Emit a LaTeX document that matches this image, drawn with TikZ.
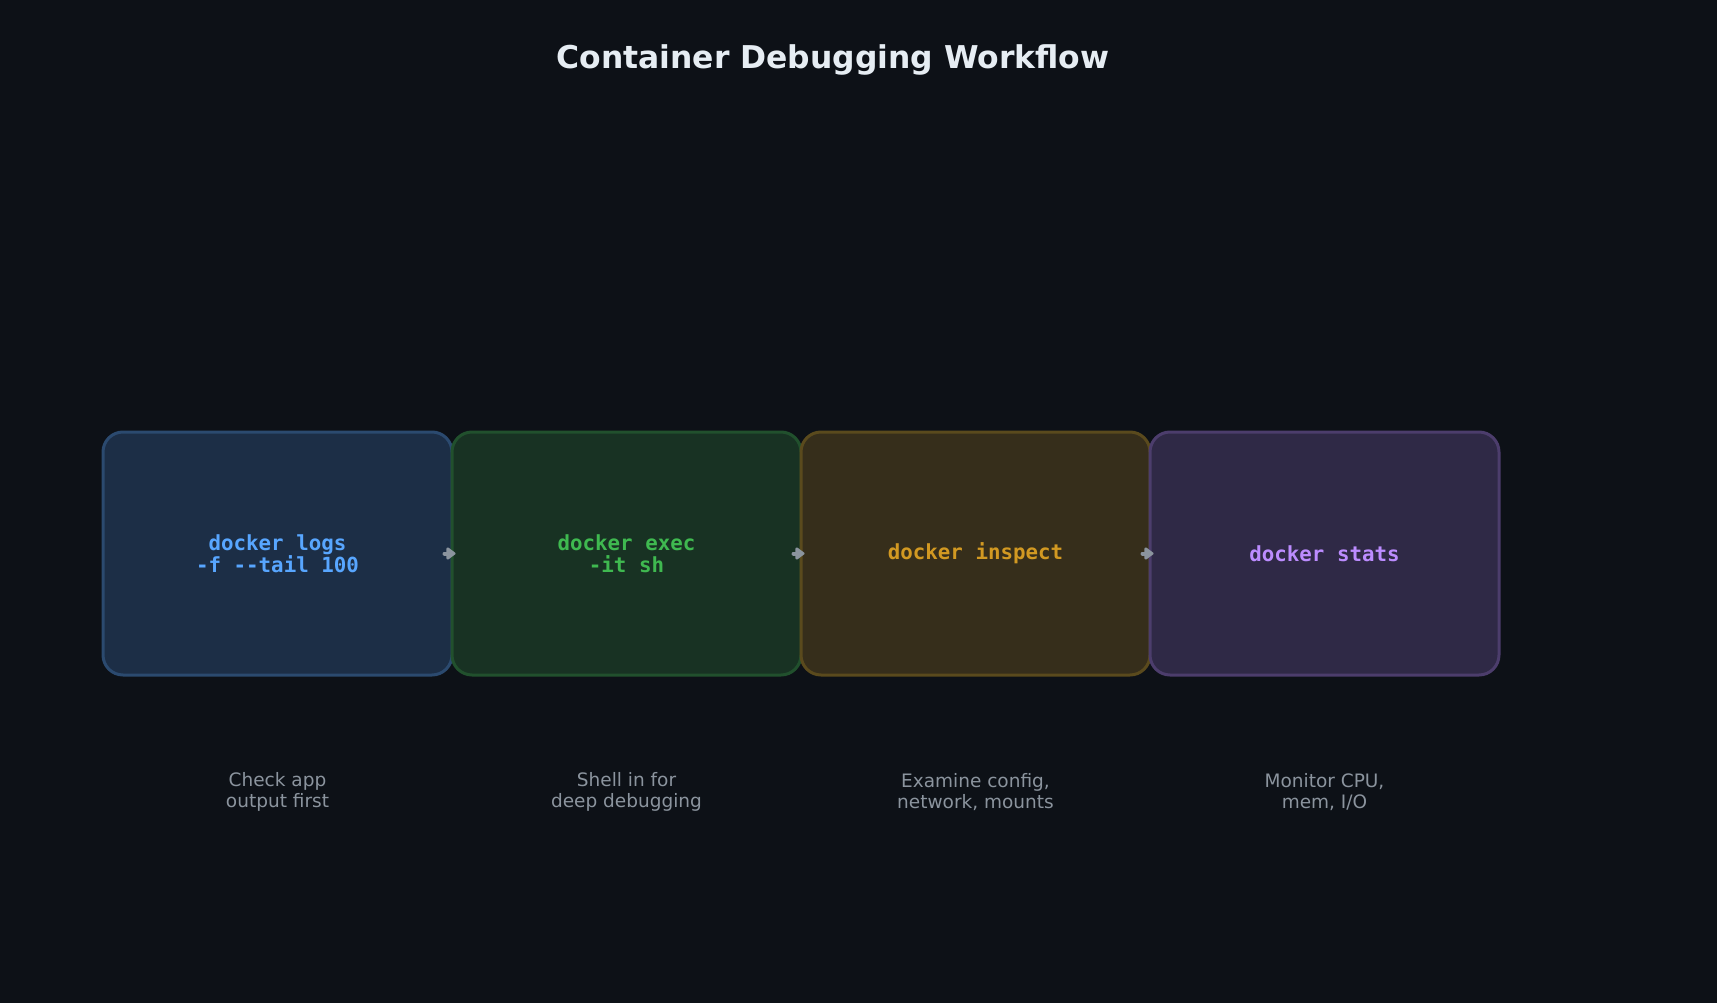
\documentclass[tikz,border=0pt]{standalone}
\usepackage{fontspec}
\setmainfont{DejaVu Sans}
\setmonofont{DejaVu Sans Mono}
\usetikzlibrary{arrows.meta}

\definecolor{canvas}{HTML}{0D1117}
\definecolor{titlefg}{HTML}{E6EDF3}
\definecolor{muted}{HTML}{8B949E}
\definecolor{logsfill}{HTML}{1C2E46}
\definecolor{logsline}{HTML}{2B4A6F}
\definecolor{logstext}{HTML}{58A6FF}
\definecolor{execfill}{HTML}{183223}
\definecolor{execline}{HTML}{21502D}
\definecolor{exectext}{HTML}{3FB950}
\definecolor{inspfill}{HTML}{362E1B}
\definecolor{inspline}{HTML}{5A4A1D}
\definecolor{insptext}{HTML}{D29922}
\definecolor{statfill}{HTML}{2F2946}
\definecolor{statline}{HTML}{4C3D6C}
\definecolor{stattext}{HTML}{BC8CFF}

\tikzset{
  cmdbox/.style={rounded corners=20pt,line width=3pt,minimum width=349pt,
    minimum height=243pt,inner sep=0pt,align=center,
    font=\ttfamily\bfseries\fontsize{20.8}{22}\selectfont},
  hint/.style={text=muted,align=center,font=\fontsize{18.5}{21.5}\selectfont},
  flow/.style={draw=muted,fill=muted,line width=4pt,line cap=round,
    -{Triangle[length=10pt,width=14pt,round]}}
}

\begin{document}
\begin{tikzpicture}[x=1pt,y=-1pt]
  \fill[canvas] (0,0) rectangle (1717,1003);
  \useasboundingbox (0,0) rectangle (1717,1003);
  \node[text=titlefg,font=\bfseries\fontsize{31.4}{38}\selectfont] (title) at (833,60) {Container Debugging Workflow};
  \foreach \i/\cx/\tag/\cmd/\desc in {1/277.5/logs/{docker logs\\-f -{}-tail 100}/{Check app\\output first},
      2/626.5/exec/{docker exec\\-it sh}/{Shell in for\\deep debugging},
      3/975.5/insp/{docker inspect}/{Examine config,\\network, mounts},
      4/1324.5/stat/{docker stats}/{Monitor CPU,\\mem, I/O}}{
    \node[cmdbox,fill=\tag fill,draw=\tag line,text=\tag text] (box\i) at (\cx,553.5) {\cmd};
    \node[hint] (hint\i) at (\cx,792) {\desc};
  }
  \foreach \i/\j in {1/2,2/3,3/4}
    \draw[flow] ([xshift=-9pt]box\i.east) -- ([xshift=5pt]box\j.west);
\end{tikzpicture}
\end{document}
